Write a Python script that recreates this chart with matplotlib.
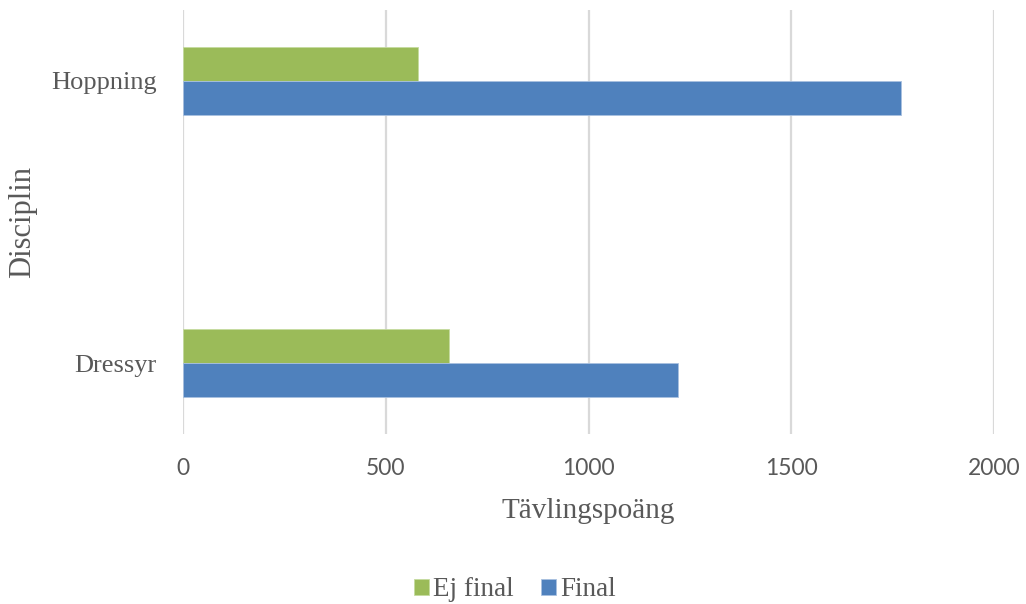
import numpy as np
import matplotlib.pyplot as plt

# Tävlingspoäng per disciplin, uppdelat på final / ej final
discipliner = ['Dressyr', 'Hoppning']
ej_final = [655, 580]
final = [1220, 1770]

GREEN = '#9BBB59'
BLUE = '#4F81BD'
TEXT = '#595959'
SERIF = ['Liberation Serif', 'DejaVu Serif']
SANS = ['Lato', 'DejaVu Sans']

fig = plt.figure(figsize=(10.26, 6.04), dpi=100)
ax = fig.add_axes([183/1026, (604-434)/604, (994-183)/1026, 424/604])

y = np.arange(len(discipliner))
h = 0.12
ax.barh(y + h/2, ej_final, height=h, color=GREEN, edgecolor='#c6dba0', linewidth=0.6,
        label='Ej final', zorder=3)
ax.barh(y - h/2, final, height=h, color=BLUE, edgecolor='#a9c1e0', linewidth=0.6,
        label='Final', zorder=3)

ax.set_xlim(0, 2000)
ax.set_ylim(-0.25, 1.25)
ax.set_xticks(np.arange(0, 2001, 500))
ax.set_yticks(y)
ax.set_yticklabels(discipliner, family=SERIF, fontsize=19, color=TEXT)
for lbl in ax.get_xticklabels():
    lbl.set_family(SANS)
    lbl.set_fontsize(16.5)
    lbl.set_color(TEXT)
ax.tick_params(axis='both', length=0)
ax.tick_params(axis='x', pad=17)
ax.tick_params(axis='y', pad=19)

ax.grid(axis='x', color='#D9D9D9', linewidth=1.6, zorder=0)
for s in ax.spines.values():
    s.set_visible(False)

ax.set_xlabel('Tävlingspoäng', family=SERIF, fontsize=21, color=TEXT, labelpad=14)
ax.set_ylabel('Disciplin', family=SERIF, fontsize=22, color=TEXT)
ax.yaxis.set_label_coords(-0.18, 0.5)

leg = fig.legend(loc='center', bbox_to_anchor=(515/1026, 1 - 590/604), ncol=2,
                 frameon=False, prop={'family': SERIF, 'size': 19.5},
                 handlelength=0.55, handleheight=0.55, handletextpad=0.15,
                 columnspacing=1.0)
for t in leg.get_texts():
    t.set_color(TEXT)

fig.savefig('out.png', dpi=100)
